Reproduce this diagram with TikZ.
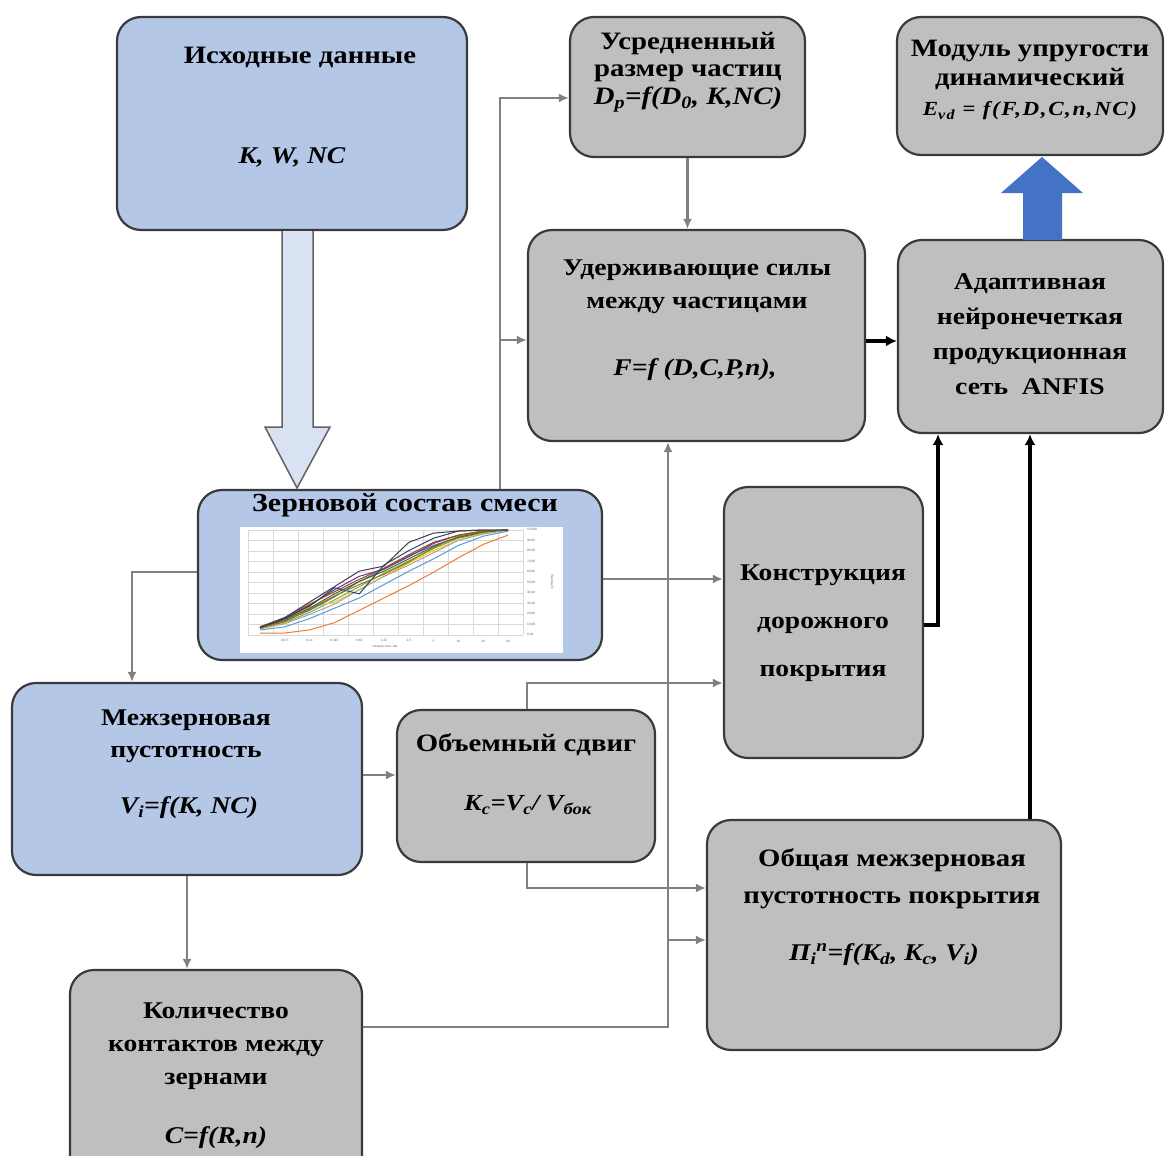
\documentclass[tikz,border=0pt]{standalone}
\usepackage{fontspec}
\setmainfont{Liberation Serif}[FakeStretch=1.15]
\newfontfamily\chartfont{Liberation Sans}
\usetikzlibrary{arrows.meta}
\definecolor{boxblue}{HTML}{B4C7E7}
\definecolor{boxgray}{HTML}{BFBFBF}
\definecolor{edgecol}{HTML}{3A3A3A}
\definecolor{conn}{HTML}{808080}
\definecolor{arrblue}{HTML}{4472C4}
\definecolor{hollowfill}{HTML}{D9E2F3}
\definecolor{gridcol}{HTML}{D9D9D9}
\definecolor{cA}{HTML}{4472C4}
\definecolor{cB}{HTML}{ED7D31}
\definecolor{cC}{HTML}{A5A5A5}
\definecolor{cD}{HTML}{FFC000}
\definecolor{cE}{HTML}{5B9BD5}
\definecolor{cF}{HTML}{70AD47}
\definecolor{cG}{HTML}{264478}
\definecolor{cH}{HTML}{9E480E}
\definecolor{cI}{HTML}{404040}
\definecolor{cJ}{HTML}{997300}
\definecolor{cK}{HTML}{43682B}
\definecolor{cL}{HTML}{7030A0}
\tikzset{
  box/.style={draw=edgecol, line width=2.2pt, rounded corners=24pt, inner sep=0pt},
  bluebox/.style={box, fill=boxblue},
  graybox/.style={box, fill=boxgray},
  lbl/.style={font=\bfseries\fontsize{24}{33}\selectfont, align=center, inner sep=0pt, text=black},
  fml/.style={font=\bfseries\itshape\fontsize{24}{30}\selectfont, inner sep=0pt, text=black},
  gline/.style={draw=conn, line width=2.5pt},
  garrow/.style={gline, -{Latex[length=10pt,width=9pt]}},
  barrow/.style={draw=black, line width=3.8pt, -{Latex[length=11pt,width=11pt]}},
  tick/.style={font=\chartfont\fontsize{3.2}{3.5}\selectfont, text=black!60, inner sep=0pt},
}
\newcommand\gcurve[3]{%
  \draw[#1, line width=1pt, line join=round] (260,{633-#2*103}) \foreach \v [count=\i] in {#3} { -- ({260+24.8*\i},{633-\v*103}) };%
}
\begin{document}
\begin{tikzpicture}[x=1pt,y=-1pt]
\useasboundingbox (0,0) rectangle (1165,1156);

% ---------- boxes ----------
\node[bluebox, minimum width=350pt, minimum height=213pt] (src) at (292,123.5) {};
\node[graybox, minimum width=235pt, minimum height=140pt] (avg) at (687.5,87) {};
\node[graybox, minimum width=266pt, minimum height=138pt] (mod) at (1030,86) {};
\node[graybox, minimum width=337pt, minimum height=211pt] (hold) at (696.5,335.5) {};
\node[graybox, minimum width=265pt, minimum height=193pt] (anfis) at (1030.5,336.5) {};
\node[bluebox, minimum width=404pt, minimum height=170pt] (grain) at (400,575) {};
\node[graybox, minimum width=199pt, minimum height=271pt] (road) at (823.5,622.5) {};
\node[bluebox, minimum width=350pt, minimum height=192pt] (void) at (187,779) {};
\node[graybox, minimum width=258pt, minimum height=152pt] (shear) at (526,786) {};
\node[graybox, minimum width=354pt, minimum height=230pt] (total) at (884,935) {};
\begin{scope}
\clip (0,0) rectangle (1165,1156);
\node[graybox, minimum width=292pt, minimum height=210pt] (cont) at (216,1075) {};
\end{scope}

% ---------- texts ----------
\node[lbl, font=\bfseries\fontsize{25}{30}\selectfont] (srcT) at (300,57) {Исходные данные};
\node[fml] (srcF) at (292,157) {K, W, NC};
\node[lbl, font=\bfseries\fontsize{25}{27.5}\selectfont] (avgT) at (688,72) {Усредненный\\размер частиц\\\textit{D\textsubscript{p}=f(D\textsubscript{0}, K,NC)}};
\node[lbl, font=\bfseries\fontsize{25}{29}\selectfont] (modT) at (1030,65) {Модуль упругости\\динамический};
\node[fml, font=\bfseries\itshape\fontsize{20}{22}\selectfont\addfontfeature{LetterSpace=8}] (modF) at (1030,111) {E\textsubscript{vd} = f(F,D,C,n,NC)};
\node[lbl] (holdT) at (697,286.5) {Удерживающие силы\\между частицами};
\node[fml] (holdF) at (695,370) {F=f (D,C,P,n),};
\node[lbl, font=\bfseries\fontsize{24}{35}\selectfont] (anfisT) at (1030,334.5) {Адаптивная\\нейронечеткая\\продукционная\\сеть~~ANFIS};
\node[lbl, font=\bfseries\fontsize{26}{30}\selectfont] (grainT) at (405,505) {Зерновой состав смеси};
\node[lbl, font=\bfseries\fontsize{24}{48}\selectfont] (roadT) at (823,623) {Конструкция\\дорожного\\покрытия};
\node[lbl, font=\bfseries\fontsize{24}{32}\selectfont] (voidT) at (186,736) {Межзерновая\\пустотность};
\node[fml] (voidF) at (189,808) {V\textsubscript{i}=f(K, NC)};
\node[lbl, font=\bfseries\fontsize{25}{30}\selectfont] (shearT) at (526,745) {Объемный сдвиг};
\node[fml, font=\bfseries\itshape\fontsize{23}{26}\selectfont] (shearF) at (528,805) {K\textsubscript{c}=V\textsubscript{c}/ V\textsubscript{бок}};
\node[lbl, font=\bfseries\fontsize{25}{37}\selectfont] (totalT) at (892,878.5) {Общая межзерновая\\пустотность покрытия};
\node[fml] (totalF) at (884,955) {П\textsubscript{i}\textsuperscript{п}=f(K\textsubscript{d}, K\textsubscript{c}, V\textsubscript{i})};
\node[lbl] (contT) at (216,1046) {Количество\\контактов между\\зернами};
\node[fml] (contF) at (216,1138) {C=f(R,n)};

% ---------- chart inside grain box ----------
\fill[white] (240,527) rectangle (563,653);
\foreach \gx in {248,273,...,523} \draw[gridcol, line width=0.5pt] (\gx,530) -- (\gx,635);
\foreach \gy in {530,540.5,...,636} \draw[gridcol, line width=0.5pt] (248,\gy) -- (523,\gy);
\gcurve{cB}{0.0}{0.0,0.03,0.1,0.22,0.34,0.46,0.59,0.73,0.86,0.95}
\gcurve{cE}{0.03}{0.06,0.14,0.24,0.34,0.47,0.6,0.72,0.85,0.94,0.99}
\gcurve{cF}{0.05}{0.1,0.2,0.32,0.45,0.58,0.7,0.82,0.92,0.97,1}
\gcurve{cD}{0.05}{0.1,0.25,0.3,0.42,0.55,0.68,0.8,0.9,0.97,1}
\gcurve{cA}{0.05}{0.12,0.22,0.35,0.5,0.62,0.75,0.85,0.93,0.98,1}
\gcurve{cL}{0.06}{0.14,0.27,0.42,0.55,0.62,0.74,0.87,0.95,0.99,1}
\gcurve{cK}{0.05}{0.13,0.24,0.38,0.5,0.6,0.72,0.84,0.93,0.98,1}
\gcurve{cH}{0.06}{0.15,0.28,0.4,0.52,0.63,0.76,0.88,0.95,0.99,1}
\gcurve{cC}{0.04}{0.09,0.18,0.28,0.42,0.55,0.66,0.78,0.9,0.96,1}
\gcurve{cG}{0.05}{0.14,0.26,0.44,0.38,0.66,0.8,0.92,0.99,1,1}
\gcurve{cJ}{0.05}{0.11,0.23,0.36,0.47,0.57,0.69,0.83,0.94,0.99,1}
\gcurve{cI}{0.05}{0.15,0.3,0.45,0.6,0.65,0.88,0.97,0.99,1,1}
\foreach \lab [count=\k from 0] in {{100,00},{90,00},{80,00},{70,00},{60,00},{50,00},{40,00},{30,00},{20,00},{10,00},{0,00}}
  \node[tick, anchor=west] (yl\k) at (527,{530+10.5*\k}) {\lab};
\foreach \lab [count=\k] in {{0,071},{0,14},{0,315},{0,63},{1,25},{2,5},{5},{10},{20},{40}}
  \node[tick] (xl\k) at ({260+24.8*\k},641) {\lab};
\node[tick] (xt) at (385,647) {Размер сита, мм};
\node[tick, rotate=-90] (yt) at (552,582) {Проход, \%};

% ---------- hollow arrow ----------
\filldraw[fill=hollowfill, draw=edgecol!80, line width=1.5pt, line join=miter]
  (282,231) -- (282,427) -- (265,427) -- (297,488) -- (330,427) -- (313,427) -- (313,231);

% ---------- blue block arrow ----------
\fill[arrblue] (1023,240) -- (1023,193) -- (1001,193) -- (1042,157) -- (1083,193) -- (1062,193) -- (1062,240) -- cycle;

% ---------- connectors ----------
\coordinate (j1) at (500,98);
\coordinate (j2) at (500,340);
\coordinate (j4) at (0,341);
\coordinate (j6) at (132,572);
\coordinate (j7) at (0,579);
\coordinate (j8) at (938,625);
\coordinate (j9) at (1030,0);
\coordinate (j10) at (0,775);
\coordinate (j12) at (527,683);
\coordinate (j13) at (527,888);
\coordinate (j14) at (668,1027);
\coordinate (j15) at (668,940);

\draw[garrow] (j1 |- grain.north) -- (j1) -- (j1 -| avg.west);
\draw[garrow] (j2) -- (j2 -| hold.west);
\draw[garrow] (avg.south) -- (avg.south |- hold.north);
\draw[barrow] (j4 -| hold.east) -- (j4 -| anfis.west);
\draw[garrow] (grain.west |- j6) -- (j6) -- (j6 |- void.north);
\draw[garrow] (j7 -| grain.east) -- (j7 -| road.west);
\draw[barrow] (j8 -| road.east) -- (j8) -- (j8 |- anfis.south);
\draw[barrow] (j9 |- total.north) -- (j9 |- anfis.south);
\draw[garrow] (j10 -| void.east) -- (j10 -| shear.west);
\draw[garrow] (void.south) -- (void.south |- cont.north);
\draw[garrow] (j12 |- shear.north) -- (j12) -- (j12 -| road.west);
\draw[garrow] (j13 |- shear.south) -- (j13) -- (j13 -| total.west);
\draw[garrow] (j14 -| cont.east) -- (j14) -- (j14 |- hold.south);
\draw[garrow] (j15) -- (j15 -| total.west);
\end{tikzpicture}
\end{document}
